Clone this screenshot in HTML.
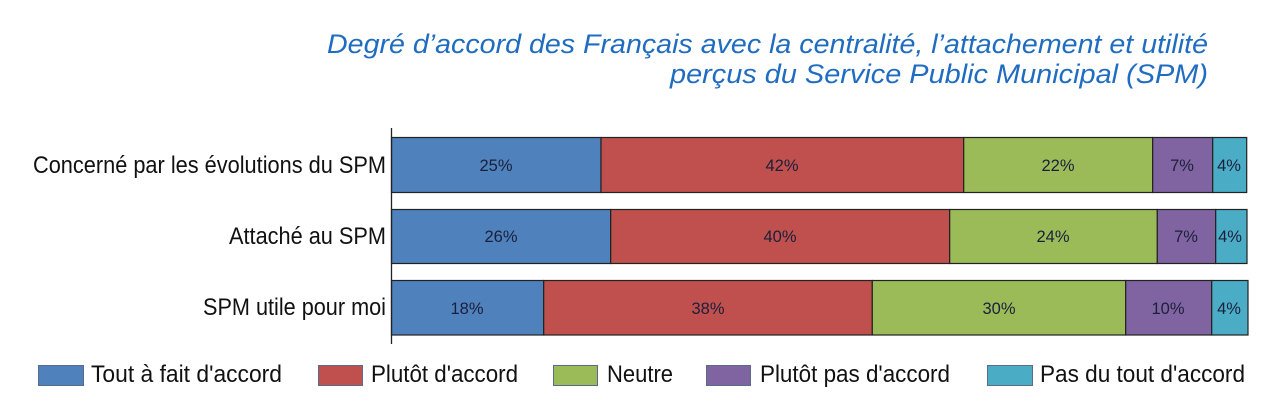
<!DOCTYPE html>
<html>
<head>
<meta charset="utf-8">
<style>
  html, body { margin:0; padding:0; background:#ffffff; }
  body { width:1275px; height:420px; overflow:hidden; }
  svg { display:block; }
  text { font-family: "Liberation Sans", Arial, sans-serif; }
</style>
</head>
<body>
<svg width="1275" height="420" viewBox="0 0 1275 420" xmlns="http://www.w3.org/2000/svg">
  <rect x="0" y="0" width="1275" height="420" fill="#ffffff"/>

  <!-- Title -->
  <text x="327" y="53" font-size="27" font-style="italic" fill="#1f6cc0" textLength="881" lengthAdjust="spacingAndGlyphs">Degré d’accord des Français avec la centralité, l’attachement et utilité</text>
  <text x="670" y="83" font-size="27" font-style="italic" fill="#1f6cc0" textLength="538" lengthAdjust="spacingAndGlyphs">perçus du Service Public Municipal (SPM)</text>

  <!-- Row labels -->
  <text x="33" y="173" font-size="24" fill="#111" textLength="353" lengthAdjust="spacingAndGlyphs">Concerné par les évolutions du SPM</text>
  <text x="229" y="244" font-size="24" fill="#111" textLength="157" lengthAdjust="spacingAndGlyphs">Attaché au SPM</text>
  <text x="203" y="315" font-size="24" fill="#111" textLength="183" lengthAdjust="spacingAndGlyphs">SPM utile pour moi</text>

  <g stroke="#222" stroke-width="1.2">
    <!-- Row 1 -->
    <rect x="391.5" y="137.5" width="209.5" height="55" fill="#4f81bd"/>
    <rect x="601" y="137.5" width="362.7" height="55" fill="#c0504d"/>
    <rect x="963.7" y="137.5" width="189" height="55" fill="#9bbb59"/>
    <rect x="1152.7" y="137.5" width="60" height="55" fill="#8064a2"/>
    <rect x="1212.7" y="137.5" width="34" height="55" fill="#4bacc6"/>
    <!-- Row 2 -->
    <rect x="391.5" y="209.5" width="219.2" height="54" fill="#4f81bd"/>
    <rect x="610.7" y="209.5" width="339" height="54" fill="#c0504d"/>
    <rect x="949.7" y="209.5" width="207.6" height="54" fill="#9bbb59"/>
    <rect x="1157.3" y="209.5" width="58.4" height="54" fill="#8064a2"/>
    <rect x="1215.7" y="209.5" width="31.3" height="54" fill="#4bacc6"/>
    <!-- Row 3 -->
    <rect x="391.5" y="280.5" width="152.2" height="54.5" fill="#4f81bd"/>
    <rect x="543.7" y="280.5" width="328.6" height="54.5" fill="#c0504d"/>
    <rect x="872.3" y="280.5" width="253.4" height="54.5" fill="#9bbb59"/>
    <rect x="1125.7" y="280.5" width="86" height="54.5" fill="#8064a2"/>
    <rect x="1211.7" y="280.5" width="36.3" height="54.5" fill="#4bacc6"/>
  </g>

  <!-- Axis -->
  <line x1="391.5" y1="128" x2="391.5" y2="344" stroke="#222" stroke-width="1.3"/>

  <!-- Value labels -->
  <g font-size="16.5" fill="#1b1f3b" text-anchor="middle">
    <text x="496" y="171">25%</text>
    <text x="782" y="171">42%</text>
    <text x="1058" y="171">22%</text>
    <text x="1182" y="171">7%</text>
    <text x="1229" y="171">4%</text>

    <text x="501" y="242">26%</text>
    <text x="780" y="242">40%</text>
    <text x="1053" y="242">24%</text>
    <text x="1186" y="242">7%</text>
    <text x="1230" y="242">4%</text>

    <text x="467" y="314">18%</text>
    <text x="708" y="314">38%</text>
    <text x="999" y="314">30%</text>
    <text x="1168" y="314">10%</text>
    <text x="1229" y="314">4%</text>
  </g>

  <!-- Legend -->
  <g stroke="#5a6a8a" stroke-width="1">
    <rect x="38.5" y="365.5" width="45" height="20" fill="#4f81bd"/>
    <rect x="318.5" y="365.5" width="44" height="20" fill="#c0504d"/>
    <rect x="553.5" y="365.5" width="44" height="20" fill="#9bbb59"/>
    <rect x="706.5" y="365.5" width="44" height="20" fill="#8064a2"/>
    <rect x="987.5" y="365.5" width="45" height="20" fill="#4bacc6"/>
  </g>
  <g font-size="24" fill="#111">
    <text x="91" y="382" textLength="191" lengthAdjust="spacingAndGlyphs">Tout à fait d'accord</text>
    <text x="371" y="382" textLength="147" lengthAdjust="spacingAndGlyphs">Plutôt d'accord</text>
    <text x="607" y="382" textLength="66" lengthAdjust="spacingAndGlyphs">Neutre</text>
    <text x="760" y="382" textLength="190" lengthAdjust="spacingAndGlyphs">Plutôt pas d'accord</text>
    <text x="1040" y="382" textLength="205" lengthAdjust="spacingAndGlyphs">Pas du tout d'accord</text>
  </g>
</svg>
</body>
</html>
